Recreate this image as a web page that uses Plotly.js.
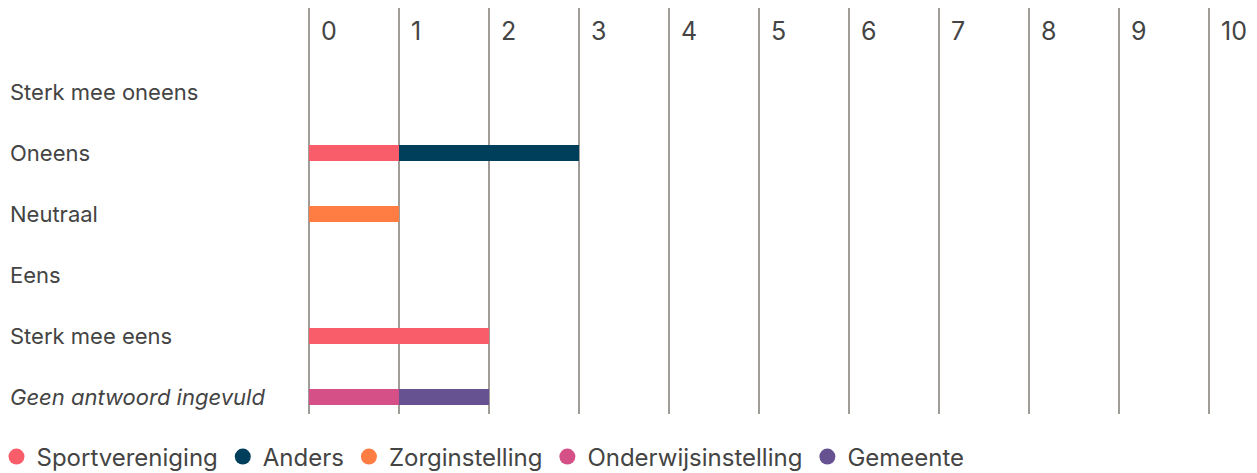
<!DOCTYPE html>
<html><head><meta charset="utf-8">
<script src="https://cdn.plot.ly/plotly-3.0.1.min.js"></script>
<style>html,body{margin:0;padding:0;background:#fff}#chart{width:1257px;height:473px}</style>
</head><body><div id="chart"></div>
<script>
var categories = ["Sterk mee oneens","Oneens","Neutraal","Eens","Sterk mee eens","Geen antwoord ingevuld"];
var categoryLabels = ["Sterk mee oneens","Oneens","Neutraal","Eens","Sterk mee eens","<i>Geen antwoord ingevuld</i>"];
var seriesNames = ["Sportvereniging","Anders","Zorginstelling","Onderwijsinstelling","Gemeente"];
var sportvereniging = [0,1,0,0,2,0];
var anders = [0,2,0,0,0,0];
var zorginstelling = [0,0,1,0,0,0];
var onderwijsinstelling = [0,0,0,0,0,1];
var gemeente = [0,0,0,0,0,1];
var tickValues = [0,1,2,3,4,5,6,7,8,9,10];
var colors = ["#f95d6a","#003f5c","#ff7c43","#d45087","#665191"];
var seriesValues = [sportvereniging, anders, zorginstelling, onderwijsinstelling, gemeente];

var FONT = "Inter, 'Noto Sans', sans-serif";
var TXT = "#444444";
var GRID = "#a09c98";
var L = 307, R = 8, PW = 1257 - L - R;
var traces = [];
seriesValues.forEach(function(vals, i){
  traces.push({type:"bar", orientation:"h", x:vals, y:categories, name:seriesNames[i],
    marker:{color:colors[i], line:{width:0}}, width:0.26, showlegend:false, hoverinfo:"x+name"});
});
seriesValues.forEach(function(vals, i){
  traces.push({type:"scatter", mode:"markers", x:[null], y:[null], name:seriesNames[i],
    marker:{color:colors[i], symbol:"circle", size:20}, showlegend:true});
});

var annotations = categories.map(function(c, i){
  return {xref:"paper", yref:"y", x:(8-L)/PW, y:c, xanchor:"left", yanchor:"middle",
    text:categoryLabels[i], showarrow:false, font:{family:FONT, size:22, color:TXT}};
});

var layout = {
  width:1257, height:473,
  margin:{l:L, r:R, t:8, b:59, pad:0, autoexpand:false},
  paper_bgcolor:"#fff", plot_bgcolor:"#fff",
  barmode:"stack",
  showlegend:true,
  legend:{orientation:"h", x:(-3.5-L)/PW, xanchor:"left", y:(414-457)/406, yanchor:"middle",
    font:{family:FONT, size:24, color:TXT}, itemwidth:30, tracegroupgap:0, traceorder:"normal"},
  xaxis:{range:[-0.0222, PW/90 - 0.0222], side:"top", tickvals:tickValues, ticktext:tickValues.map(String),
    ticklabelposition:"inside right", ticklabelstandoff:8, ticklabelshift:12, showgrid:true, gridcolor:GRID, gridwidth:1.5,
    zeroline:false, showline:false, ticks:"", fixedrange:true,
    tickfont:{family:FONT, size:25, color:TXT}},
  yaxis:{type:"category", categoryorder:"array", categoryarray:categories,
    range:[5.279,-1.377], showticklabels:false, showgrid:false, zeroline:false, ticks:"", fixedrange:true},
  annotations:annotations,
  font:{family:FONT, color:TXT}
};
Plotly.newPlot("chart", traces, layout, {displayModeBar:false, staticPlot:true});
</script></body></html>
